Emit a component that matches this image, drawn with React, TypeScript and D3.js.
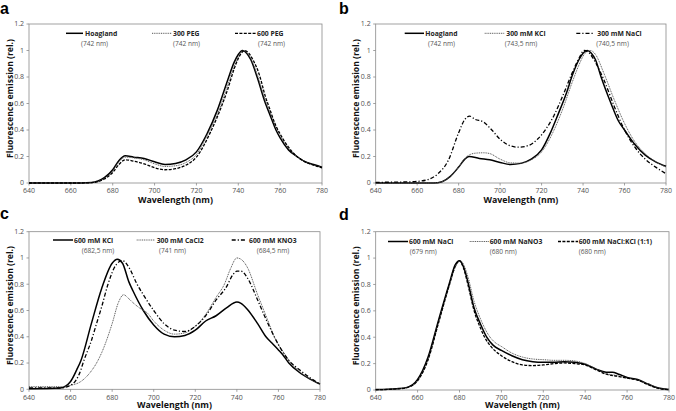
import React from "react";
import * as d3 from "d3";

type P = [number, number];

// ---------- DATA ----------
const xTicks = [640, 660, 680, 700, 720, 740, 760, 780];
const yTicks = [0, 0.2, 0.4, 0.6, 0.8, 1, 1.2];
const yTickLabels = ["0", "0.2", "0.4", "0.6", "0.8", "1", "1.2"];

// panel a
const aHoagland: P[] = [[640,0],[665,0],[670,0.003],[673,0.015],[676,0.04],[680,0.1],[683,0.17],[686,0.205],[690,0.195],[695,0.185],[700,0.16],[705,0.14],[710,0.148],[715,0.175],[720,0.235],[725,0.37],[730,0.55],[735,0.78],[738,0.91],[740,0.97],[742,1.0],[744,0.98],[746,0.93],[749,0.8],[753,0.6],[755,0.52],[758,0.4],[760,0.34],[764,0.25],[768,0.2],[772,0.16],[776,0.14],[780,0.12]];
const aPeg300: P[] = [[640,0],[665,0],[670,0.003],[673,0.012],[676,0.035],[680,0.09],[683,0.16],[686,0.195],[690,0.19],[695,0.175],[700,0.145],[705,0.125],[710,0.13],[715,0.155],[720,0.215],[725.8,0.38],[730,0.52],[735,0.74],[738,0.88],[740,0.95],[742,1.0],[744,0.985],[746,0.94],[749,0.82],[753,0.62],[755,0.54],[758,0.42],[760,0.36],[764,0.26],[768,0.2],[772,0.16],[776,0.135],[780,0.115]];
const aPeg600: P[] = [[640,0],[665,0],[670,0.003],[673,0.01],[676,0.03],[680,0.08],[683,0.14],[686,0.175],[690,0.165],[695,0.145],[700,0.115],[705,0.1],[710,0.108],[715,0.135],[720,0.195],[726.6,0.38],[730,0.5],[735,0.71],[738,0.86],[740,0.94],[742,0.99],[743,1.0],[745,0.98],[747,0.93],[750,0.82],[753,0.65],[755,0.56],[758,0.43],[760,0.37],[764,0.27],[768,0.2],[772,0.16],[776,0.135],[780,0.115]];

// panel b
const bHoagland: P[] = [[640,0],[668,0],[672,0.01],[676,0.05],[680,0.12],[683,0.18],[685,0.2],[690,0.185],[695,0.175],[700,0.155],[705,0.14],[710,0.148],[715,0.18],[720,0.25],[724.3,0.38],[728,0.52],[732,0.68],[735,0.82],[738,0.93],[740,0.98],[742,1.0],[744,0.98],[746,0.93],[748.7,0.8],[753.5,0.6],[757,0.47],[760,0.4],[765,0.29],[770,0.21],[775,0.16],[780,0.126]];
const bKcl300: P[] = [[640,0],[668,0],[672,0.01],[676,0.05],[680,0.12],[684,0.2],[688,0.225],[692,0.228],[695,0.222],[700,0.18],[705,0.152],[710,0.15],[715,0.175],[720,0.235],[725.4,0.38],[730,0.55],[735,0.77],[738,0.89],[741,0.98],[743.5,1.0],[746,0.97],[750,0.83],[755,0.63],[760,0.45],[765,0.31],[770,0.22],[775,0.16],[780,0.12]];
const bNacl300: P[] = [[640,0.005],[655,0.008],[660,0.012],[665,0.025],[670,0.07],[675,0.17],[680,0.38],[683,0.48],[685.3,0.505],[688,0.48],[692,0.46],[696,0.4],[700,0.33],[705,0.28],[709,0.27],[714,0.285],[718,0.33],[722.2,0.41],[726,0.51],[730,0.65],[735,0.84],[738,0.94],[740.5,1.0],[743,0.98],[746,0.91],[750,0.78],[755,0.58],[760,0.4],[765,0.27],[770,0.18],[775,0.12],[780,0.07]];

// panel c
const cKcl600: P[] = [[640,0.005],[655,0.01],[660,0.06],[663,0.15],[665,0.22],[670,0.5],[675,0.77],[680,0.96],[682.5,0.99],[685,0.96],[688,0.82],[690,0.75],[695,0.6],[700,0.49],[705,0.42],[710,0.4],[715,0.41],[720,0.45],[725,0.52],[730,0.56],[735,0.62],[740,0.665],[742,0.655],[745,0.61],[750,0.5],[754,0.4],[757,0.35],[760,0.3],[762,0.265],[765,0.2],[770,0.13],[775,0.08],[780,0.04]];
const cCacl300: P[] = [[640,0.02],[655,0.02],[660,0.03],[665,0.06],[670,0.14],[672.5,0.2],[675,0.28],[680,0.5],[683,0.66],[685.5,0.72],[688,0.69],[690,0.66],[694,0.61],[697,0.58],[700,0.52],[705,0.45],[710,0.42],[715,0.43],[720,0.48],[725,0.57],[730,0.7],[734,0.8],[737,0.92],[740,1.0],[742,0.99],[745,0.93],[750,0.72],[753,0.6],[755,0.52],[758,0.4],[760,0.34],[763,0.27],[766,0.2],[770,0.14],[775,0.08],[780,0.04]];
const cKno3600: P[] = [[640,0.01],[655,0.01],[660,0.03],[665,0.15],[666,0.2],[670,0.37],[672.5,0.5],[675,0.63],[678,0.8],[682,0.95],[685,0.98],[688,0.93],[692,0.8],[695,0.72],[700,0.6],[705,0.5],[710,0.45],[715,0.44],[720,0.48],[725,0.56],[730,0.68],[735,0.78],[738,0.87],[740,0.9],[742,0.9],[745,0.85],[750,0.68],[753,0.57],[755,0.5],[758,0.4],[760,0.34],[765,0.22],[770,0.15],[775,0.09],[780,0.04]];

// panel d
const dNacl600: P[] = [[640,0.003],[650,0.01],[655,0.02],[660,0.08],[665,0.25],[670,0.53],[675,0.8],[678,0.95],[680,0.98],[682,0.93],[684,0.82],[687,0.62],[690,0.5],[693,0.4],[696,0.34],[700,0.3],[705,0.26],[710,0.23],[715,0.215],[720,0.21],[725,0.21],[730,0.215],[735,0.21],[740,0.195],[745,0.16],[750,0.135],[753,0.135],[756,0.12],[760,0.095],[765,0.08],[770,0.045],[775,0.015],[780,0.003]];
const dNano3600: P[] = [[640,0.002],[650,0.008],[655,0.018],[660,0.07],[665,0.23],[670,0.51],[675,0.78],[678,0.93],[680.5,0.98],[682,0.95],[684,0.86],[687,0.67],[690,0.54],[694.6,0.4],[697,0.36],[700,0.33],[705,0.28],[710,0.25],[715,0.235],[720,0.23],[725,0.225],[730,0.225],[735,0.22],[740,0.2],[745,0.16],[750,0.125],[755,0.11],[760,0.09],[765,0.075],[770,0.045],[775,0.015],[780,0.003]];
const dNaclKcl: P[] = [[640,0.002],[650,0.008],[655,0.018],[660,0.07],[665,0.23],[670,0.51],[675,0.79],[678,0.94],[680,0.98],[682,0.92],[684,0.8],[687,0.6],[690,0.47],[692,0.4],[695,0.33],[700,0.26],[705,0.215],[710,0.19],[715,0.185],[720,0.19],[725,0.2],[730,0.205],[735,0.2],[740,0.19],[745,0.155],[750,0.12],[755,0.105],[760,0.09],[765,0.075],[770,0.04],[775,0.012],[780,0.002]];

const aNames = ["Hoagland", "300 PEG", "600 PEG"];
const aPeaks = ["(742 nm)", "(742 nm)", "(742 nm)"];
const bNames = ["Hoagland", "300 mM KCl", "300 mM NaCl"];
const bPeaks = ["(742 nm)", "(743,5 nm)", "(740,5 nm)"];
const cNames = ["600 mM KCl", "300 mM CaCl2", "600 mM KNO3"];
const cPeaks = ["(682,5 nm)", "(741 nm)", "(684,5 nm)"];
const dNames = ["600 mM NaCl", "600 mM NaNO3", "600 mM NaCl:KCl (1:1)"];
const dPeaks = ["(679 nm)", "(680 nm)", "(680 nm)"];

// ---------- STYLES / LAYOUT ----------
type Style = { stroke: string; width: number; dash?: string };
const SOLID: Style = { stroke: "#000", width: 1.5 };
const DOTTED: Style = { stroke: "#555", width: 1, dash: "1,0.8" };
const DASHED: Style = { stroke: "#000", width: 1.3, dash: "3,1.4" };
const DASHDOT: Style = { stroke: "#000", width: 1.3, dash: "4,2,1.2,2" };

type Leg = { lx0: number; lx1: number; tx: number; sx: number };
type PanelDef = {
  letter: string; lx: number; ly: number;
  left: number; right: number; top: number; bottom: number; titleOff: number;
  series: P[][]; styles: Style[]; names: string[]; peaks: string[];
  legend: Leg[]; ty: number; sy: number;
};

const FONT = "'Open Sans', 'Liberation Sans', sans-serif";

const panels: PanelDef[] = [
  {
    letter: "a", lx: 0, ly: 14, left: 29, right: 322, top: 24, bottom: 183, titleOff: 20,
    series: [aHoagland, aPeg300, aPeg600], styles: [SOLID, DOTTED, DASHED],
    names: aNames, peaks: aPeaks,
    legend: [{ lx0: 66, lx1: 83, tx: 85, sx: 81 }, { lx0: 152, lx1: 172, tx: 173, sx: 173 }, { lx0: 235, lx1: 256, tx: 257, sx: 258 }],
    ty: 35.8, sy: 46,
  },
  {
    letter: "b", lx: 339, ly: 14, left: 375.7, right: 666, top: 24, bottom: 183, titleOff: 20,
    series: [bHoagland, bKcl300, bNacl300], styles: [SOLID, DOTTED, DASHDOT],
    names: bNames, peaks: bPeaks,
    legend: [{ lx0: 404.7, lx1: 424, tx: 425.3, sx: 428 }, { lx0: 484.7, lx1: 504.7, tx: 506.3, sx: 504.7 }, { lx0: 576.3, lx1: 594.7, tx: 597.3, sx: 596.3 }],
    ty: 35.8, sy: 46,
  },
  {
    letter: "c", lx: 0, ly: 219, left: 29, right: 320, top: 231.7, bottom: 389.3, titleOff: 18.6,
    series: [cKcl600, cCacl300, cKno3600], styles: [SOLID, DOTTED, DASHDOT],
    names: cNames, peaks: cPeaks,
    legend: [{ lx0: 53, lx1: 73, tx: 74, sx: 81.7 }, { lx0: 136.7, lx1: 155, tx: 156.7, sx: 159 }, { lx0: 231.7, lx1: 246.7, tx: 249, sx: 256.7 }],
    ty: 242.5, sy: 252.5,
  },
  {
    letter: "d", lx: 339, ly: 219.5, left: 375.7, right: 669, top: 231.7, bottom: 390, titleOff: 18,
    series: [dNacl600, dNano3600, dNaclKcl], styles: [SOLID, DOTTED, DASHED],
    names: dNames, peaks: dPeaks,
    legend: [{ lx0: 388, lx1: 408, tx: 409, sx: 409.7 }, { lx0: 469.7, lx1: 488.7, tx: 489.7, sx: 489.7 }, { lx0: 558, lx1: 578, tx: 578.7, sx: 578.7 }],
    ty: 244, sy: 254,
  },
];

function Panel({ p }: { p: PanelDef }) {
  const x = d3.scaleLinear().domain([640, 780]).range([p.left, p.right]);
  const y = d3.scaleLinear().domain([0, 1.2]).range([p.bottom, p.top]);
  const line = d3
    .line<P>()
    .x((d) => x(d[0]))
    .y((d) => y(d[1]))
    .curve(d3.curveMonotoneX);
  const cx = (p.left + p.right) / 2;
  const cy = (p.top + p.bottom) / 2 - 5;
  return (
    <g>
      <text x={p.lx} y={p.ly} fontFamily="'Liberation Sans', Arial, sans-serif" fontWeight="bold" fontSize={16} fill="#000">
        {p.letter}
      </text>
      <rect x={p.left} y={p.top} width={p.right - p.left} height={p.bottom - p.top} fill="none" stroke="#8a8a8a" strokeWidth={0.8} />
      {yTicks.map((t, i) => (
        <g key={"y" + i}>
          <line x1={p.left - 2.5} x2={p.left} y1={y(t)} y2={y(t)} stroke="#8a8a8a" strokeWidth={0.8} />
          <text x={p.left - 5} y={y(t) + 2.4} textAnchor="end" fontFamily={FONT} fontSize={7} fill="#505050">
            {yTickLabels[i]}
          </text>
        </g>
      ))}
      {xTicks.map((t, i) => (
        <g key={"x" + i}>
          <line x1={x(t)} x2={x(t)} y1={p.bottom} y2={p.bottom + 2.5} stroke="#8a8a8a" strokeWidth={0.8} />
          <text x={x(t)} y={p.bottom + 10.3} textAnchor="middle" fontFamily={FONT} fontSize={7} fill="#505050">
            {t}
          </text>
        </g>
      ))}
      <text x={cx} y={p.bottom + p.titleOff} textAnchor="middle" fontFamily={FONT} fontWeight="bold" fontSize={8.8} fill="#111">
        Wavelength (nm)
      </text>
      <text
        transform={`translate(${p.left - 16.5},${cy}) rotate(-90)`}
        textAnchor="middle"
        fontFamily={FONT}
        fontWeight="bold"
        fontSize={8.6}
        fill="#111"
      >
        Fluorescence emission (rel.)
      </text>
      {p.series.map((s, i) => (
        <path
          key={"s" + i}
          d={line(s) || ""}
          fill="none"
          stroke={p.styles[i].stroke}
          strokeWidth={p.styles[i].width}
          strokeDasharray={p.styles[i].dash}
        />
      ))}
      {p.legend.map((l, i) => (
        <g key={"l" + i}>
          <line
            x1={l.lx0}
            x2={l.lx1}
            y1={p.ty - 2.5}
            y2={p.ty - 2.5}
            stroke={p.styles[i].stroke}
            strokeWidth={p.styles[i].width}
            strokeDasharray={p.styles[i].dash}
          />
          <text x={l.tx} y={p.ty} fontFamily={FONT} fontWeight="bold" fontSize={6.8} fill="#222">
            {p.names[i]}
          </text>
          <text x={l.sx} y={p.sy} fontFamily={FONT} fontSize={6.6} fill="#555">
            {p.peaks[i]}
          </text>
        </g>
      ))}
    </g>
  );
}

export default function App() {
  return (
    <svg
      width={676}
      height={411}
      viewBox="0 0 676 411"
      style={{ position: "absolute", left: 0, top: 0, background: "#fff" }}
    >
      <rect x={0} y={0} width={676} height={411} fill="#fff" />
      {panels.map((p) => (
        <Panel key={p.letter} p={p} />
      ))}
    </svg>
  );
}
